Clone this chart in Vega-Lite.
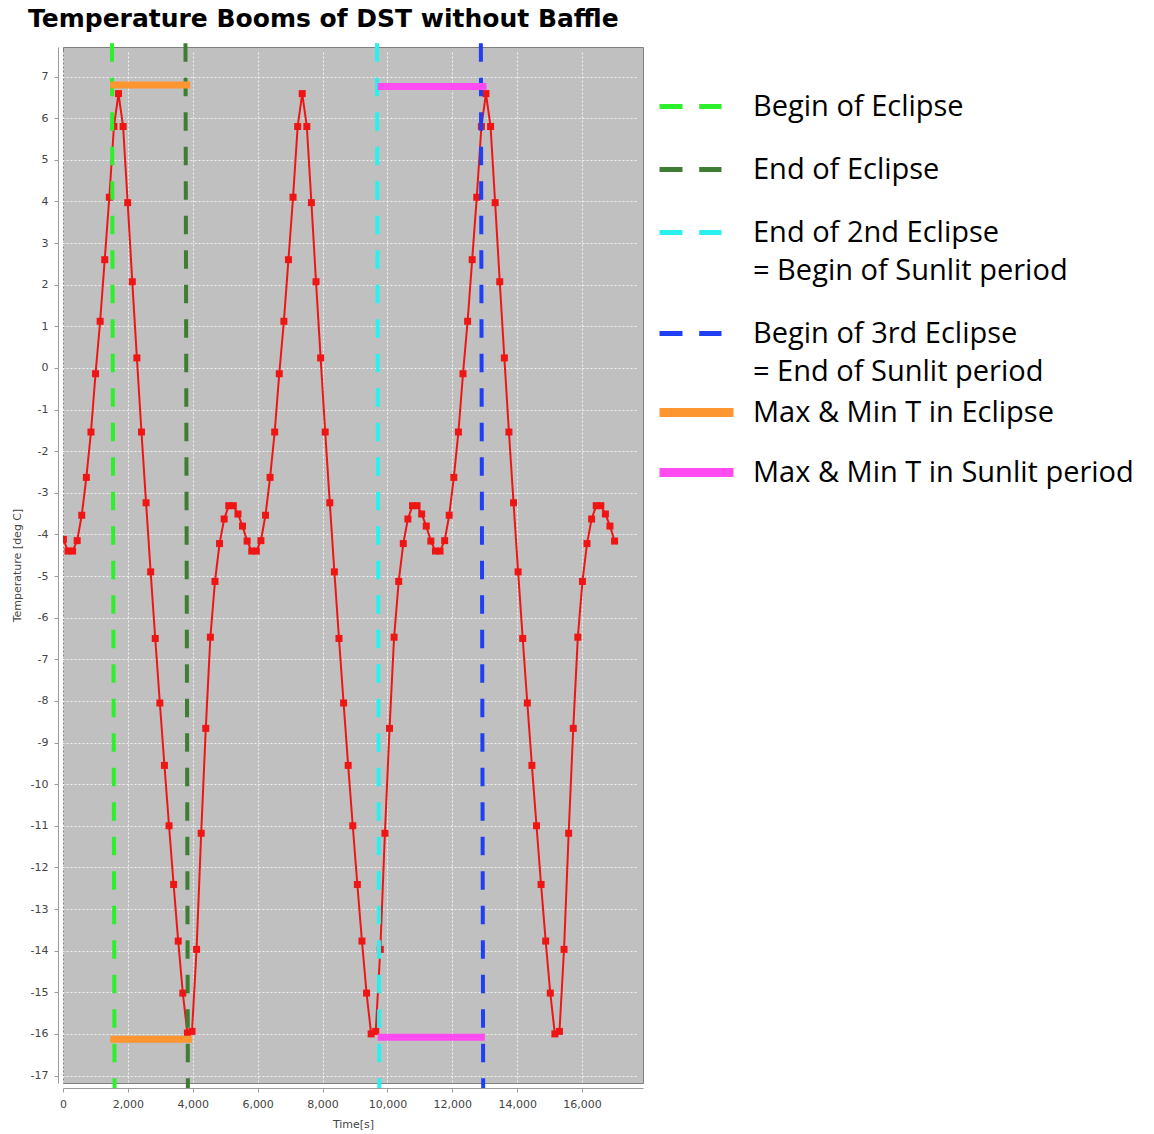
{
  "$schema": "https://vega.github.io/schema/vega-lite/v6.json",
  "width": 580,
  "height": 1036,
  "autosize": {"type": "none"},
  "padding": {"left": 63, "top": 47, "right": 511, "bottom": 51},
  "background": "white",
  "title": {
    "text": "Temperature Booms of DST without Baffle",
    "anchor": "start",
    "frame": "group",
    "font": "DejaVu Sans",
    "fontSize": 25,
    "fontWeight": "bold",
    "color": "#000000",
    "offset": 9,
    "dx": -35
  },
  "datasets": {
    "temps": [
      {"t": 12, "temp": -4.12}, {"t": 154, "temp": -4.4}, {"t": 295, "temp": -4.4}, {"t": 437, "temp": -4.15},
      {"t": 578, "temp": -3.54}, {"t": 720, "temp": -2.63}, {"t": 862, "temp": -1.54}, {"t": 1003, "temp": -0.14},
      {"t": 1145, "temp": 1.12}, {"t": 1286, "temp": 2.6}, {"t": 1428, "temp": 4.1}, {"t": 1570, "temp": 5.8},
      {"t": 1711, "temp": 6.59}, {"t": 1853, "temp": 5.8}, {"t": 1994, "temp": 3.97}, {"t": 2136, "temp": 2.07},
      {"t": 2278, "temp": 0.24}, {"t": 2419, "temp": -1.54}, {"t": 2561, "temp": -3.24}, {"t": 2702, "temp": -4.9},
      {"t": 2844, "temp": -6.5}, {"t": 2986, "temp": -8.05}, {"t": 3127, "temp": -9.55}, {"t": 3269, "temp": -11.0},
      {"t": 3410, "temp": -12.41}, {"t": 3552, "temp": -13.77}, {"t": 3694, "temp": -15.02}, {"t": 3835, "temp": -15.98},
      {"t": 3977, "temp": -15.94}, {"t": 4118, "temp": -13.97}, {"t": 4260, "temp": -11.18}, {"t": 4402, "temp": -8.66},
      {"t": 4543, "temp": -6.47}, {"t": 4685, "temp": -5.13}, {"t": 4826, "temp": -4.22}, {"t": 4968, "temp": -3.63},
      {"t": 5110, "temp": -3.31}, {"t": 5251, "temp": -3.31}, {"t": 5393, "temp": -3.51}, {"t": 5534, "temp": -3.8},
      {"t": 5676, "temp": -4.16}, {"t": 5818, "temp": -4.4}, {"t": 5959, "temp": -4.4}, {"t": 6101, "temp": -4.15},
      {"t": 6242, "temp": -3.54}, {"t": 6384, "temp": -2.63}, {"t": 6526, "temp": -1.54}, {"t": 6667, "temp": -0.14},
      {"t": 6809, "temp": 1.12}, {"t": 6950, "temp": 2.6}, {"t": 7092, "temp": 4.1}, {"t": 7234, "temp": 5.8},
      {"t": 7375, "temp": 6.59}, {"t": 7517, "temp": 5.8}, {"t": 7658, "temp": 3.97}, {"t": 7800, "temp": 2.07},
      {"t": 7942, "temp": 0.24}, {"t": 8083, "temp": -1.54}, {"t": 8225, "temp": -3.24}, {"t": 8366, "temp": -4.9},
      {"t": 8508, "temp": -6.5}, {"t": 8650, "temp": -8.05}, {"t": 8791, "temp": -9.55}, {"t": 8933, "temp": -11.0},
      {"t": 9074, "temp": -12.41}, {"t": 9216, "temp": -13.77}, {"t": 9358, "temp": -15.02}, {"t": 9499, "temp": -16.0},
      {"t": 9641, "temp": -15.94}, {"t": 9782, "temp": -13.97}, {"t": 9924, "temp": -11.18}, {"t": 10066, "temp": -8.66},
      {"t": 10207, "temp": -6.47}, {"t": 10349, "temp": -5.13}, {"t": 10490, "temp": -4.22}, {"t": 10632, "temp": -3.63},
      {"t": 10774, "temp": -3.31}, {"t": 10915, "temp": -3.31}, {"t": 11057, "temp": -3.51}, {"t": 11198, "temp": -3.8},
      {"t": 11340, "temp": -4.16}, {"t": 11482, "temp": -4.4}, {"t": 11623, "temp": -4.4}, {"t": 11765, "temp": -4.15},
      {"t": 11906, "temp": -3.54}, {"t": 12048, "temp": -2.63}, {"t": 12190, "temp": -1.54}, {"t": 12331, "temp": -0.14},
      {"t": 12473, "temp": 1.12}, {"t": 12614, "temp": 2.6}, {"t": 12756, "temp": 4.1}, {"t": 12898, "temp": 5.8},
      {"t": 13039, "temp": 6.59}, {"t": 13181, "temp": 5.8}, {"t": 13322, "temp": 3.97}, {"t": 13464, "temp": 2.07},
      {"t": 13606, "temp": 0.24}, {"t": 13747, "temp": -1.54}, {"t": 13889, "temp": -3.24}, {"t": 14030, "temp": -4.9},
      {"t": 14172, "temp": -6.5}, {"t": 14314, "temp": -8.05}, {"t": 14455, "temp": -9.55}, {"t": 14597, "temp": -11.0},
      {"t": 14738, "temp": -12.41}, {"t": 14880, "temp": -13.77}, {"t": 15022, "temp": -15.02}, {"t": 15163, "temp": -16.0},
      {"t": 15305, "temp": -15.94}, {"t": 15446, "temp": -13.97}, {"t": 15588, "temp": -11.18}, {"t": 15730, "temp": -8.66},
      {"t": 15871, "temp": -6.47}, {"t": 16013, "temp": -5.13}, {"t": 16154, "temp": -4.22}, {"t": 16296, "temp": -3.63},
      {"t": 16438, "temp": -3.31}, {"t": 16579, "temp": -3.31}, {"t": 16721, "temp": -3.51}, {"t": 16862, "temp": -3.8},
      {"t": 17004, "temp": -4.16}
    ],
    "events": [
      {"event": "Begin of Eclipse", "t_top": 1509, "t_bottom": 1589},
      {"event": "End of Eclipse", "t_top": 3776, "t_bottom": 3850},
      {"event": "End of 2nd Eclipse = Begin of Sunlit period", "t_top": 9680, "t_bottom": 9751},
      {"event": "Begin of 3rd Eclipse = End of Sunlit period", "t_top": 12882, "t_bottom": 12953}
    ],
    "ranges": [
      {"range": "Max & Min T in Eclipse", "t_start": 1457, "t_end": 3921, "temp": 6.8},
      {"range": "Max & Min T in Eclipse", "t_start": 1457, "t_end": 3972, "temp": -16.13},
      {"range": "Max & Min T in Sunlit period", "t_start": 9701, "t_end": 13057, "temp": 6.76},
      {"range": "Max & Min T in Sunlit period", "t_start": 9701, "t_end": 13006, "temp": -16.08}
    ]
  },
  "layer": [
    {
      "data": {"name": "temps"},
      "mark": {
        "type": "line",
        "color": "#f01515",
        "strokeWidth": 2,
        "clip": true,
        "point": {"shape": "square", "size": 49, "filled": true, "color": "#f01515"}
      },
      "encoding": {
        "x": {
          "field": "t",
          "type": "quantitative",
          "scale": {"domain": [0, 17880], "nice": false, "zero": false},
          "axis": {
            "title": "Time[s]",
            "values": [0, 2000, 4000, 6000, 8000, 10000, 12000, 14000, 16000],
            "format": ",d",
            "labelFlush": false,
            "titlePadding": 9
          }
        },
        "y": {
          "field": "temp",
          "type": "quantitative",
          "scale": {"domain": [-17.18, 7.71], "nice": false, "zero": false},
          "axis": {
            "title": "Temperature [deg C]",
            "values": [-17, -16, -15, -14, -13, -12, -11, -10, -9, -8, -7, -6, -5, -4, -3, -2, -1, 0, 1, 2, 3, 4, 5, 6, 7],
            "labelExpr": "datum.value < 0 ? '-' + abs(datum.value) : '' + datum.value",
            "labelOverlap": false,
            "titlePadding": 8
          }
        }
      }
    },
    {
      "data": {"name": "events"},
      "mark": {"type": "rule", "strokeWidth": 4, "strokeDash": [18.5, 16], "clip": false},
      "encoding": {
        "x": {"field": "t_top", "type": "quantitative"},
        "x2": {"field": "t_bottom"},
        "y": {"datum": 7.8},
        "y2": {"datum": -17.3},
        "color": {
          "field": "event",
          "type": "nominal",
          "scale": {
            "domain": ["Begin of Eclipse", "End of Eclipse", "End of 2nd Eclipse = Begin of Sunlit period", "Begin of 3rd Eclipse = End of Sunlit period"],
            "range": ["#2cf02c", "#3f7d34", "#2af0f0", "#1f3ff5"]
          },
          "legend": {
            "title": null,
            "orient": "none",
            "legendX": 594,
            "legendY": 26,
            "padding": 0,
            "symbolType": "stroke",
            "symbolSize": 3844,
            "symbolStrokeWidth": 5,
            "symbolDash": [23, 16.7],
            "labelFont": "Open Sans",
            "labelFontSize": 29,
            "labelColor": "#000000",
            "labelLimit": 600,
            "labelOffset": 29,
            "rowPadding": 14,
            "labelExpr": "split(replace(datum.label, ' = ', '|= '), '|')"
          }
        }
      }
    },
    {
      "data": {"name": "ranges"},
      "mark": {"type": "rule", "strokeWidth": 7, "strokeCap": "butt"},
      "encoding": {
        "x": {"field": "t_start", "type": "quantitative"},
        "x2": {"field": "t_end"},
        "y": {"field": "temp", "type": "quantitative"},
        "stroke": {
          "field": "range",
          "type": "nominal",
          "scale": {
            "domain": ["Max & Min T in Eclipse", "Max & Min T in Sunlit period"],
            "range": ["#fd9630", "#ff4bef"]
          },
          "legend": {
            "title": null,
            "orient": "none",
            "legendX": 592,
            "legendY": 324,
            "padding": 0,
            "symbolType": "stroke",
            "symbolSize": 5476,
            "symbolStrokeWidth": 9,
            "labelFont": "Open Sans",
            "labelFontSize": 29,
            "labelColor": "#000000",
            "labelLimit": 600,
            "labelOffset": 15,
            "rowPadding": 0
          }
        }
      }
    }
  ],
  "config": {
    "view": {"fill": "#c0c0c0", "stroke": "#7f7f7f", "strokeWidth": 1},
    "style": {"guide-label": {"lineHeight": 38}},
    "axis": {
      "labelFont": "DejaVu Sans",
      "labelFontSize": 11,
      "labelColor": "#444444",
      "titleFont": "DejaVu Sans",
      "titleFontSize": 11,
      "titleFontWeight": "normal",
      "titleColor": "#444444",
      "gridColor": "#ffffff",
      "gridDash": [2, 2],
      "gridOpacity": 0.8,
      "gridWidth": 1,
      "domainColor": "#9a9a9a",
      "tickColor": "#9a9a9a",
      "tickSize": 4,
      "labelPadding": 6,
      "offset": 5
    }
  }
}
